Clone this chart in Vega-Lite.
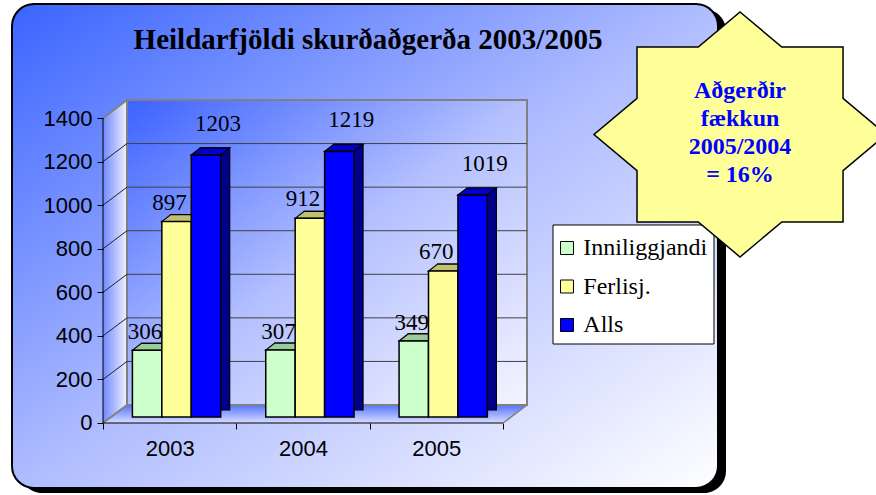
{
  "$schema": "https://vega.github.io/schema/vega-lite/v6.json",
  "width": 706,
  "height": 484,
  "autosize": {"type": "none"},
  "padding": {"left": 12, "top": 4, "right": 158, "bottom": 7},
  "background": "white",
  "config": {"view": {"stroke": null}},
  "title": {"text": "Heildarfjöldi skurðaðgerða 2003/2005", "font": "Liberation Serif", "fontSize": 29, "fontWeight": "bold", "color": "black", "anchor": "middle", "frame": "group", "baseline": "alphabetic", "offset": -75, "dx": 3, "zindex": 1},
  "datasets": {
    "bars": [
      {"year": "2003", "series": "Inniliggjandi", "value": 306},
      {"year": "2003", "series": "Ferlisj.", "value": 897},
      {"year": "2003", "series": "Alls", "value": 1203},
      {"year": "2004", "series": "Inniliggjandi", "value": 307},
      {"year": "2004", "series": "Ferlisj.", "value": 912},
      {"year": "2004", "series": "Alls", "value": 1219},
      {"year": "2005", "series": "Inniliggjandi", "value": 349},
      {"year": "2005", "series": "Ferlisj.", "value": 670},
      {"year": "2005", "series": "Alls", "value": 1019}
    ],
    "ticks": [{"v": 0}, {"v": 200}, {"v": 400}, {"v": 600}, {"v": 800}, {"v": 1000}, {"v": 1200}, {"v": 1400}]
  },
  "layer": [
    {
      "data": {"values": [{}]},
      "mark": {"type": "rect", "fill": "black", "cornerRadius": 22, "xOffset": 8, "x2Offset": 8, "yOffset": 5, "y2Offset": 5},
      "encoding": {
        "x": {"datum": 0, "type": "quantitative", "scale": {"domain": [0, 1], "nice": false, "zero": false}, "axis": null},
        "x2": {"datum": 1},
        "y": {"datum": 0, "type": "quantitative", "scale": {"domain": [0, 1], "nice": false, "zero": false}, "axis": null},
        "y2": {"datum": 1}
      }
    },
    {
      "data": {"values": [{}]},
      "mark": {"type": "rect", "cornerRadius": 22, "stroke": "black", "strokeWidth": 2,
        "fill": {"gradient": "linear", "x1": 0, "y1": 0, "x2": 1, "y2": 1, "stops": [{"offset": 0, "color": "#3a64ff"}, {"offset": 0.5, "color": "#afbcff"}, {"offset": 1, "color": "#ffffff"}]}},
      "encoding": {
        "x": {"datum": 0, "type": "quantitative", "scale": {"domain": [0, 1], "nice": false, "zero": false}, "axis": null},
        "x2": {"datum": 1},
        "y": {"datum": 0, "type": "quantitative", "scale": {"domain": [0, 1], "nice": false, "zero": false}, "axis": null},
        "y2": {"datum": 1}
      }
    },
    {
      "data": {"values": [{}]},
      "mark": {"type": "point", "filled": true, "opacity": 1, "size": 40000, "strokeWidth": 0,
        "shape": "M0,-1.525 L0.24,-1.705 L0.24,1.345 L0,1.525 Z",
        "fill": {"gradient": "linear", "x1": 0, "y1": 0, "x2": 1, "y2": 0, "stops": [{"offset": 0, "color": "#7088ff"}, {"offset": 1, "color": "#f0f2ff"}]}},
      "encoding": {
        "x": {"datum": "2003", "bandPosition": 0, "type": "nominal", "scale": {"type": "band", "domain": ["2003", "2004", "2005"], "range": [91, 491], "paddingInner": 0, "paddingOuter": 0}, "axis": null},
        "y": {"datum": 700, "type": "quantitative", "scale": {"domain": [-298.4, 1923.3], "nice": false, "zero": false}, "axis": null}
      }
    },
    {
      "data": {"values": [{}]},
      "mark": {"type": "point", "filled": true, "opacity": 1, "size": 40000, "strokeWidth": 0,
        "shape": "M0,0 L4,0 L4.24,-0.18 L0.24,-0.18 Z",
        "fill": {"gradient": "linear", "x1": 0, "y1": 0, "x2": 0, "y2": 1, "stops": [{"offset": 0, "color": "#5575ff"}, {"offset": 1, "color": "#d8ddff"}]}},
      "encoding": {
        "x": {"datum": "2003", "bandPosition": 0, "type": "nominal", "scale": {"type": "band", "domain": ["2003", "2004", "2005"], "range": [91, 491], "paddingInner": 0, "paddingOuter": 0}, "axis": null},
        "y": {"datum": 0, "type": "quantitative", "scale": {"domain": [-298.4, 1923.3], "nice": false, "zero": false}, "axis": null}
      }
    },
    {
      "data": {"values": [{}]},
      "mark": {"type": "rect", "xOffset": 24, "x2Offset": 24, "yOffset": -18, "y2Offset": -18, "stroke": "#808080", "strokeWidth": 2,
        "fill": {"gradient": "linear", "x1": 0, "y1": 0, "x2": 1, "y2": 1, "stops": [{"offset": 0, "color": "#3c62ff"}, {"offset": 0.5, "color": "#b4c0ff"}, {"offset": 1, "color": "#f4f4ff"}]}},
      "encoding": {
        "x": {"datum": "2003", "bandPosition": 0, "type": "nominal", "scale": {"type": "band", "domain": ["2003", "2004", "2005"], "range": [91, 491], "paddingInner": 0, "paddingOuter": 0}, "axis": null},
        "x2": {"datum": "2005", "bandPosition": 1},
        "y": {"datum": 1400, "type": "quantitative", "scale": {"domain": [-298.4, 1923.3], "nice": false, "zero": false}, "axis": null},
        "y2": {"datum": 0}
      }
    },
    {
      "data": {"name": "ticks"},
      "transform": [{"filter": "datum.v > 0 && datum.v < 1400"}],
      "mark": {"type": "rule", "xOffset": 24, "x2Offset": 24, "yOffset": -18, "stroke": "#404040", "strokeWidth": 1},
      "encoding": {
        "x": {"datum": "2003", "bandPosition": 0, "type": "nominal", "scale": {"type": "band", "domain": ["2003", "2004", "2005"], "range": [91, 491], "paddingInner": 0, "paddingOuter": 0}, "axis": null},
        "x2": {"datum": "2005", "bandPosition": 1},
        "y": {"field": "v", "type": "quantitative", "scale": {"domain": [-298.4, 1923.3], "nice": false, "zero": false}, "axis": null}
      }
    },
    {
      "data": {"name": "ticks"},
      "transform": [{"filter": "datum.v > 0 && datum.v < 1400"}],
      "mark": {"type": "rule", "x2Offset": 24, "y2Offset": -18, "stroke": "#202020", "strokeWidth": 1},
      "encoding": {
        "x": {"datum": "2003", "bandPosition": 0, "type": "nominal", "scale": {"type": "band", "domain": ["2003", "2004", "2005"], "range": [91, 491], "paddingInner": 0, "paddingOuter": 0}, "axis": null},
        "x2": {"datum": "2003", "bandPosition": 0},
        "y": {"field": "v", "type": "quantitative", "scale": {"domain": [-298.4, 1923.3], "nice": false, "zero": false}, "axis": null},
        "y2": {"field": "v"}
      }
    },
    {
      "data": {"name": "ticks"},
      "transform": [{"filter": "datum.v == 0 || datum.v == 1400"}],
      "mark": {"type": "rule", "x2Offset": 24, "y2Offset": -18, "stroke": "#808080", "strokeWidth": 2},
      "encoding": {
        "x": {"datum": "2003", "bandPosition": 0, "type": "nominal", "scale": {"type": "band", "domain": ["2003", "2004", "2005"], "range": [91, 491], "paddingInner": 0, "paddingOuter": 0}, "axis": null},
        "x2": {"datum": "2003", "bandPosition": 0},
        "y": {"field": "v", "type": "quantitative", "scale": {"domain": [-298.4, 1923.3], "nice": false, "zero": false}, "axis": null},
        "y2": {"field": "v"}
      }
    },
    {
      "data": {"values": [{}]},
      "mark": {"type": "rule", "stroke": "black", "strokeWidth": 1},
      "encoding": {
        "x": {"datum": "2003", "bandPosition": 0, "type": "nominal", "scale": {"type": "band", "domain": ["2003", "2004", "2005"], "range": [91, 491], "paddingInner": 0, "paddingOuter": 0}, "axis": null},
        "y": {"datum": 0, "type": "quantitative", "scale": {"domain": [-298.4, 1923.3], "nice": false, "zero": false}, "axis": null},
        "y2": {"datum": 1400}
      }
    },
    {
      "data": {"values": [{}]},
      "mark": {"type": "rule", "stroke": "black", "strokeWidth": 1},
      "encoding": {
        "x": {"datum": "2003", "bandPosition": 0, "type": "nominal", "scale": {"type": "band", "domain": ["2003", "2004", "2005"], "range": [91, 491], "paddingInner": 0, "paddingOuter": 0}, "axis": null},
        "x2": {"datum": "2005", "bandPosition": 1},
        "y": {"datum": 0, "type": "quantitative", "scale": {"domain": [-298.4, 1923.3], "nice": false, "zero": false}, "axis": null}
      }
    },
    {
      "data": {"values": [{}]},
      "mark": {"type": "rule", "x2Offset": 24, "y2Offset": -18, "stroke": "#808080", "strokeWidth": 1.5},
      "encoding": {
        "x": {"datum": "2005", "bandPosition": 1, "type": "nominal", "scale": {"type": "band", "domain": ["2003", "2004", "2005"], "range": [91, 491], "paddingInner": 0, "paddingOuter": 0}, "axis": null},
        "x2": {"datum": "2005", "bandPosition": 1},
        "y": {"datum": 0, "type": "quantitative", "scale": {"domain": [-298.4, 1923.3], "nice": false, "zero": false}, "axis": null},
        "y2": {"datum": 0}
      }
    },
    {
      "data": {"name": "bars"},
      "mark": {"type": "bar", "yOffset": -13, "y2Offset": -13, "stroke": "black", "strokeWidth": 1.2},
      "encoding": {
        "x": {"field": "year", "type": "nominal", "scale": {"type": "band", "domain": ["2003", "2004", "2005"], "range": [91, 491], "paddingInner": 0, "paddingOuter": 0}, "axis": null},
        "xOffset": {"field": "series", "type": "nominal", "scale": {"type": "band", "domain": ["Inniliggjandi", "Ferlisj.", "Alls"], "paddingInner": 0, "paddingOuter": 0.765, "align": 0.853}},
        "y": {"field": "value", "type": "quantitative", "scale": {"domain": [-298.4, 1923.3], "nice": false, "zero": false}, "axis": null},
        "y2": {"datum": 0},
        "fill": {"field": "series", "type": "nominal", "scale": {"domain": ["Inniliggjandi", "Ferlisj.", "Alls"], "range": ["#80b080", "#a0a050", "#00008c"]}, "legend": null}
      }
    },
    {
      "data": {"name": "bars"},
      "mark": {"type": "point", "filled": true, "opacity": 1, "size": 400, "stroke": "black", "strokeWidth": 1.2,
        "shape": "M-1.47,-0.6 L1.47,-0.6 L2.37,-1.3 L-0.57,-1.3 Z"},
      "encoding": {
        "x": {"field": "year", "type": "nominal", "scale": {"type": "band", "domain": ["2003", "2004", "2005"], "range": [91, 491], "paddingInner": 0, "paddingOuter": 0}, "axis": null},
        "xOffset": {"field": "series", "type": "nominal", "scale": {"type": "band", "domain": ["Inniliggjandi", "Ferlisj.", "Alls"], "paddingInner": 0, "paddingOuter": 0.765, "align": 0.653}},
        "y": {"field": "value", "type": "quantitative", "scale": {"domain": [-298.4, 1923.3], "nice": false, "zero": false}, "axis": null},
        "fill": {"field": "series", "type": "nominal", "scale": {"domain": ["Inniliggjandi", "Ferlisj.", "Alls"], "range": ["#99cc99", "#c0c070", "#0000c8"]}, "legend": null}
      }
    },
    {
      "data": {"name": "bars"},
      "mark": {"type": "bar", "yOffset": -6, "y2Offset": -6, "stroke": "black", "strokeWidth": 1.5},
      "encoding": {
        "x": {"field": "year", "type": "nominal", "scale": {"type": "band", "domain": ["2003", "2004", "2005"], "range": [91, 491], "paddingInner": 0, "paddingOuter": 0},
          "axis": {"title": null, "offset": -65, "domain": false, "tickBand": "extent", "tickSize": 6, "tickColor": "black", "labelFont": "Liberation Sans", "labelFontSize": 22, "labelColor": "black", "labelPadding": 9, "labelAngle": 0, "zindex": 1}},
        "xOffset": {"field": "series", "type": "nominal", "scale": {"type": "band", "domain": ["Inniliggjandi", "Ferlisj.", "Alls"], "paddingInner": 0, "paddingOuter": 0.765, "align": 0.653}},
        "y": {"field": "value", "type": "quantitative", "scale": {"domain": [-298.4, 1923.3], "nice": false, "zero": false},
          "axis": {"title": null, "offset": -91, "values": [0, 200, 400, 600, 800, 1000, 1200, 1400], "format": "d", "domain": false, "grid": false, "tickSize": 6, "tickColor": "black", "labelFont": "Liberation Sans", "labelFontSize": 22, "labelColor": "black", "labelPadding": 5, "zindex": 1}},
        "y2": {"datum": 0},
        "color": {"field": "series", "type": "nominal", "scale": {"domain": ["Inniliggjandi", "Ferlisj.", "Alls"], "range": ["#CCFFCC", "#FFFF99", "#0000FF"]}, "legend": null}
      }
    },
    {
      "data": {"name": "bars"},
      "transform": [{"filter": "datum.series == 'Inniliggjandi'"}],
      "mark": {"type": "text", "font": "Liberation Serif", "fontSize": 23, "color": "black", "baseline": "alphabetic", "align": "center", "dx": -2, "dy": -17},
      "encoding": {
        "x": {"field": "year", "type": "nominal", "scale": {"type": "band", "domain": ["2003", "2004", "2005"], "range": [91, 491], "paddingInner": 0, "paddingOuter": 0}, "axis": null},
        "xOffset": {"field": "series", "type": "nominal", "scale": {"type": "band", "domain": ["Inniliggjandi", "Ferlisj.", "Alls"], "paddingInner": 0, "paddingOuter": 0.765, "align": 0.653}},
        "y": {"field": "value", "type": "quantitative", "scale": {"domain": [-298.4, 1923.3], "nice": false, "zero": false}, "axis": null},
        "text": {"field": "value", "type": "quantitative"}
      }
    },
    {
      "data": {"name": "bars"},
      "transform": [{"filter": "datum.series == 'Ferlisj.'"}],
      "mark": {"type": "text", "font": "Liberation Serif", "fontSize": 23, "color": "black", "baseline": "alphabetic", "align": "center", "dx": -7, "dy": -18},
      "encoding": {
        "x": {"field": "year", "type": "nominal", "scale": {"type": "band", "domain": ["2003", "2004", "2005"], "range": [91, 491], "paddingInner": 0, "paddingOuter": 0}, "axis": null},
        "xOffset": {"field": "series", "type": "nominal", "scale": {"type": "band", "domain": ["Inniliggjandi", "Ferlisj.", "Alls"], "paddingInner": 0, "paddingOuter": 0.765, "align": 0.653}},
        "y": {"field": "value", "type": "quantitative", "scale": {"domain": [-298.4, 1923.3], "nice": false, "zero": false}, "axis": null},
        "text": {"field": "value", "type": "quantitative"}
      }
    },
    {
      "data": {"name": "bars"},
      "transform": [{"filter": "datum.series == 'Alls'"}],
      "mark": {"type": "text", "font": "Liberation Serif", "fontSize": 23, "color": "black", "baseline": "alphabetic", "align": "center", "dx": 12, "dy": -30},
      "encoding": {
        "x": {"field": "year", "type": "nominal", "scale": {"type": "band", "domain": ["2003", "2004", "2005"], "range": [91, 491], "paddingInner": 0, "paddingOuter": 0}, "axis": null},
        "xOffset": {"field": "series", "type": "nominal", "scale": {"type": "band", "domain": ["Inniliggjandi", "Ferlisj.", "Alls"], "paddingInner": 0, "paddingOuter": 0.765, "align": 0.653}},
        "y": {"field": "value", "type": "quantitative", "scale": {"domain": [-298.4, 1923.3], "nice": false, "zero": false}, "axis": null},
        "text": {"field": "value", "type": "quantitative"}
      }
    },
    {
      "data": {"values": [{}]},
      "mark": {"type": "rect", "fill": "white", "stroke": "black", "strokeWidth": 1},
      "encoding": {
        "x": {"datum": 0.7663, "type": "quantitative", "scale": {"domain": [0, 1], "nice": false, "zero": false}, "axis": null},
        "x2": {"datum": 0.9943},
        "y": {"datum": 0.5434, "type": "quantitative", "scale": {"domain": [0, 1], "nice": false, "zero": false}, "axis": null},
        "y2": {"datum": 0.2975}
      }
    },
    {
      "data": {"name": "bars"},
      "transform": [{"filter": "datum.year == '2003'"}],
      "mark": {"type": "point", "shape": "square", "size": 169, "filled": true, "stroke": "black", "strokeWidth": 1, "opacity": 1},
      "encoding": {
        "x": {"datum": 0.7861, "type": "quantitative", "scale": {"domain": [0, 1], "nice": false, "zero": false}, "axis": null},
        "y": {"field": "series", "type": "nominal", "scale": {"type": "point", "domain": ["Inniliggjandi", "Ferlisj.", "Alls"], "range": [244, 321], "padding": 0}, "axis": null},
        "color": {"field": "series", "type": "nominal", "scale": {"domain": ["Inniliggjandi", "Ferlisj.", "Alls"], "range": ["#CCFFCC", "#FFFF99", "#0000FF"]}, "legend": null}
      }
    },
    {
      "data": {"name": "bars"},
      "transform": [{"filter": "datum.year == '2003'"}],
      "mark": {"type": "text", "font": "Liberation Serif", "fontSize": 24, "color": "black", "align": "left", "baseline": "middle"},
      "encoding": {
        "x": {"datum": 0.8092, "type": "quantitative", "scale": {"domain": [0, 1], "nice": false, "zero": false}, "axis": null},
        "y": {"field": "series", "type": "nominal", "scale": {"type": "point", "domain": ["Inniliggjandi", "Ferlisj.", "Alls"], "range": [244, 321], "padding": 0}, "axis": null},
        "text": {"field": "series", "type": "nominal"}
      }
    },
    {
      "data": {"values": [{}]},
      "mark": {"type": "point", "filled": true, "fill": "#FFFF99", "stroke": "black", "strokeWidth": 1.5, "opacity": 1, "size": 60025,
        "shape": "M0,-1 L0.341,-0.714 L0.841,-0.714 L0.841,-0.295 L1.192,0 L0.841,0.295 L0.841,0.714 L0.341,0.714 L0,1 L-0.341,0.714 L-0.841,0.714 L-0.841,0.295 L-1.192,0 L-0.841,-0.295 L-0.841,-0.714 L-0.341,-0.714 Z"},
      "encoding": {
        "x": {"datum": 1.0312, "type": "quantitative", "scale": {"domain": [0, 1], "nice": false, "zero": false}, "axis": null},
        "y": {"datum": 0.7304, "type": "quantitative", "scale": {"domain": [0, 1], "nice": false, "zero": false}, "axis": null}
      }
    },
    {
      "data": {"values": [{}]},
      "mark": {"type": "text", "font": "Liberation Serif", "fontSize": 24, "fontWeight": "bold", "color": "#0000FF", "align": "center", "baseline": "middle", "lineHeight": 28, "lineBreak": "\n", "dy": -43},
      "encoding": {
        "x": {"datum": 1.0312, "type": "quantitative", "scale": {"domain": [0, 1], "nice": false, "zero": false}, "axis": null},
        "y": {"datum": 0.7304, "type": "quantitative", "scale": {"domain": [0, 1], "nice": false, "zero": false}, "axis": null},
        "text": {"value": "Aðgerðir\nfækkun\n2005/2004\n= 16%"}
      }
    }
  ],
  "resolve": {"scale": {"x": "independent", "y": "independent", "xOffset": "independent", "fill": "independent"}}
}
